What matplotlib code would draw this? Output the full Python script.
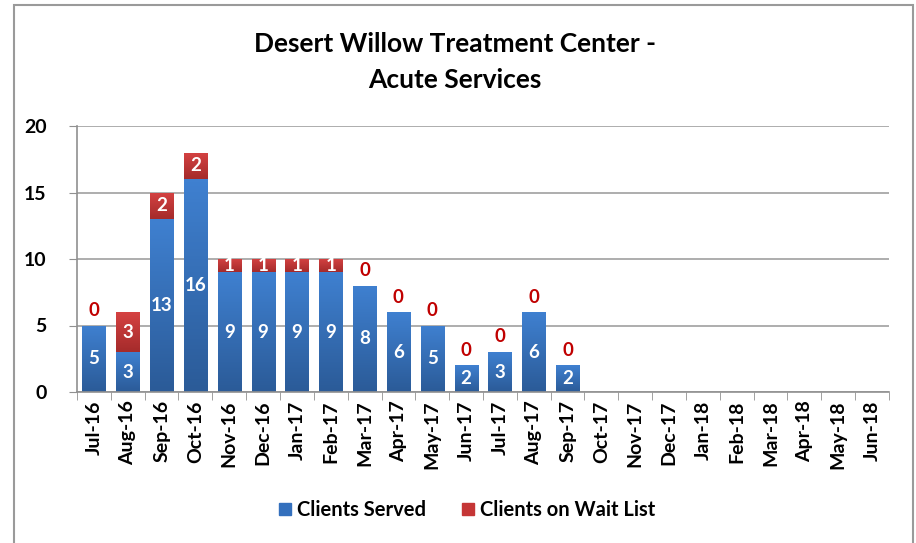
import numpy as np
import matplotlib
matplotlib.use('Agg')
import matplotlib.pyplot as plt
from matplotlib.colors import LinearSegmentedColormap
from matplotlib.patches import Rectangle

plt.rcParams['font.family'] = ['Lato', 'DejaVu Sans']
plt.rcParams['font.weight'] = 'bold'

# ------------------------------------------------------------------
# Datos
# ------------------------------------------------------------------
months = ['Jul-16', 'Aug-16', 'Sep-16', 'Oct-16', 'Nov-16', 'Dec-16',
          'Jan-17', 'Feb-17', 'Mar-17', 'Apr-17', 'May-17', 'Jun-17',
          'Jul-17', 'Aug-17', 'Sep-17', 'Oct-17', 'Nov-17', 'Dec-17',
          'Jan-18', 'Feb-18', 'Mar-18', 'Apr-18', 'May-18', 'Jun-18']
served = [5, 3, 13, 16, 9, 9, 9, 9, 8, 6, 5, 2, 3, 6, 2]
wait_list = [0, 3, 2, 2, 1, 1, 1, 1, 0, 0, 0, 0, 0, 0, 0]

blue_cmap = LinearSegmentedColormap.from_list('b', ['#2b5b98', '#3f80d0'])
red_cmap = LinearSegmentedColormap.from_list('r', ['#a52b2b', '#d54242'])

fig = plt.figure(figsize=(9.16, 5.43), dpi=100)
fig.patches.append(Rectangle((14 / 916, -0.01), 899 / 916, 1 - 5 / 543 + 0.01,
                             transform=fig.transFigure, fill=False,
                             edgecolor='#9a9a9a', linewidth=1.5))
ax = fig.add_axes([77 / 916, 1 - 392 / 543, 812 / 916, 266 / 543])

x = np.arange(len(months))
w = 0.68

def gradient_bar(xc, bottom, height, cmap):
    bar = ax.bar(xc, height, w, bottom=bottom, color='none', edgecolor='none')[0]
    grad = np.linspace(0, 1, 64).reshape(-1, 1)
    im = ax.imshow(grad, extent=[xc - w / 2, xc + w / 2, bottom, bottom + height],
                   origin='lower', aspect='auto', cmap=cmap, zorder=2)
    im.set_clip_path(bar)

for i, s in enumerate(served):
    gradient_bar(x[i], 0, s, blue_cmap)
    ax.text(x[i], s / 2, str(s), ha='center', va='center', color='white',
            fontsize=13.5, fontweight='bold', zorder=3)
    wl = wait_list[i]
    if wl > 0:
        gradient_bar(x[i], s, wl, red_cmap)
        ax.text(x[i], s + wl / 2, str(wl), ha='center', va='center', color='white',
                fontsize=13.5, fontweight='bold', zorder=3)
    else:
        ax.text(x[i], s + 0.5, '0', ha='center', va='bottom', color='#c00000',
                fontsize=13.5, fontweight='bold', zorder=3)

ax.set_xlim(-0.5, len(months) - 0.5)
ax.set_ylim(0, 20)
ax.set_yticks([0, 5, 10, 15, 20])
ax.set_xticks(x)
ax.set_xticklabels(months, rotation=90, fontsize=14, fontweight='bold')
ax.tick_params(axis='y', labelsize=14, length=6, color='#909090', pad=16)
ax.tick_params(axis='x', length=0, pad=6)
ax.set_xticks(np.arange(-0.5, len(months)), minor=True)
ax.tick_params(axis='x', which='minor', length=6, color='#909090')
ax.grid(axis='y', color='#a0a0a0', linewidth=1.2, zorder=0)
ax.set_axisbelow(True)
for side in ['top', 'right']:
    ax.spines[side].set_visible(False)
ax.spines['left'].set_color('#909090')
ax.spines['bottom'].set_color('#909090')
ax.spines['left'].set_linewidth(1.2)
ax.spines['bottom'].set_linewidth(1.2)

fig.text(0.497, 1 - 62 / 543, 'Desert Willow Treatment Center -\nAcute Services',
         ha='center', va='center', fontsize=19, fontweight='bold', linespacing=1.55)

handles = [Rectangle((0, 0), 1, 1, color='#3470bd'), Rectangle((0, 0), 1, 1, color='#c53636')]
fig.legend(handles, ['Clients Served', 'Clients on Wait List'], loc='center',
           bbox_to_anchor=(467 / 916, 1 - 510 / 543), ncol=2, frameon=False,
           fontsize=14.5, handlelength=0.6, handleheight=0.6, columnspacing=1.8,
           handletextpad=0.3)

fig.savefig('out.png', dpi=100)
